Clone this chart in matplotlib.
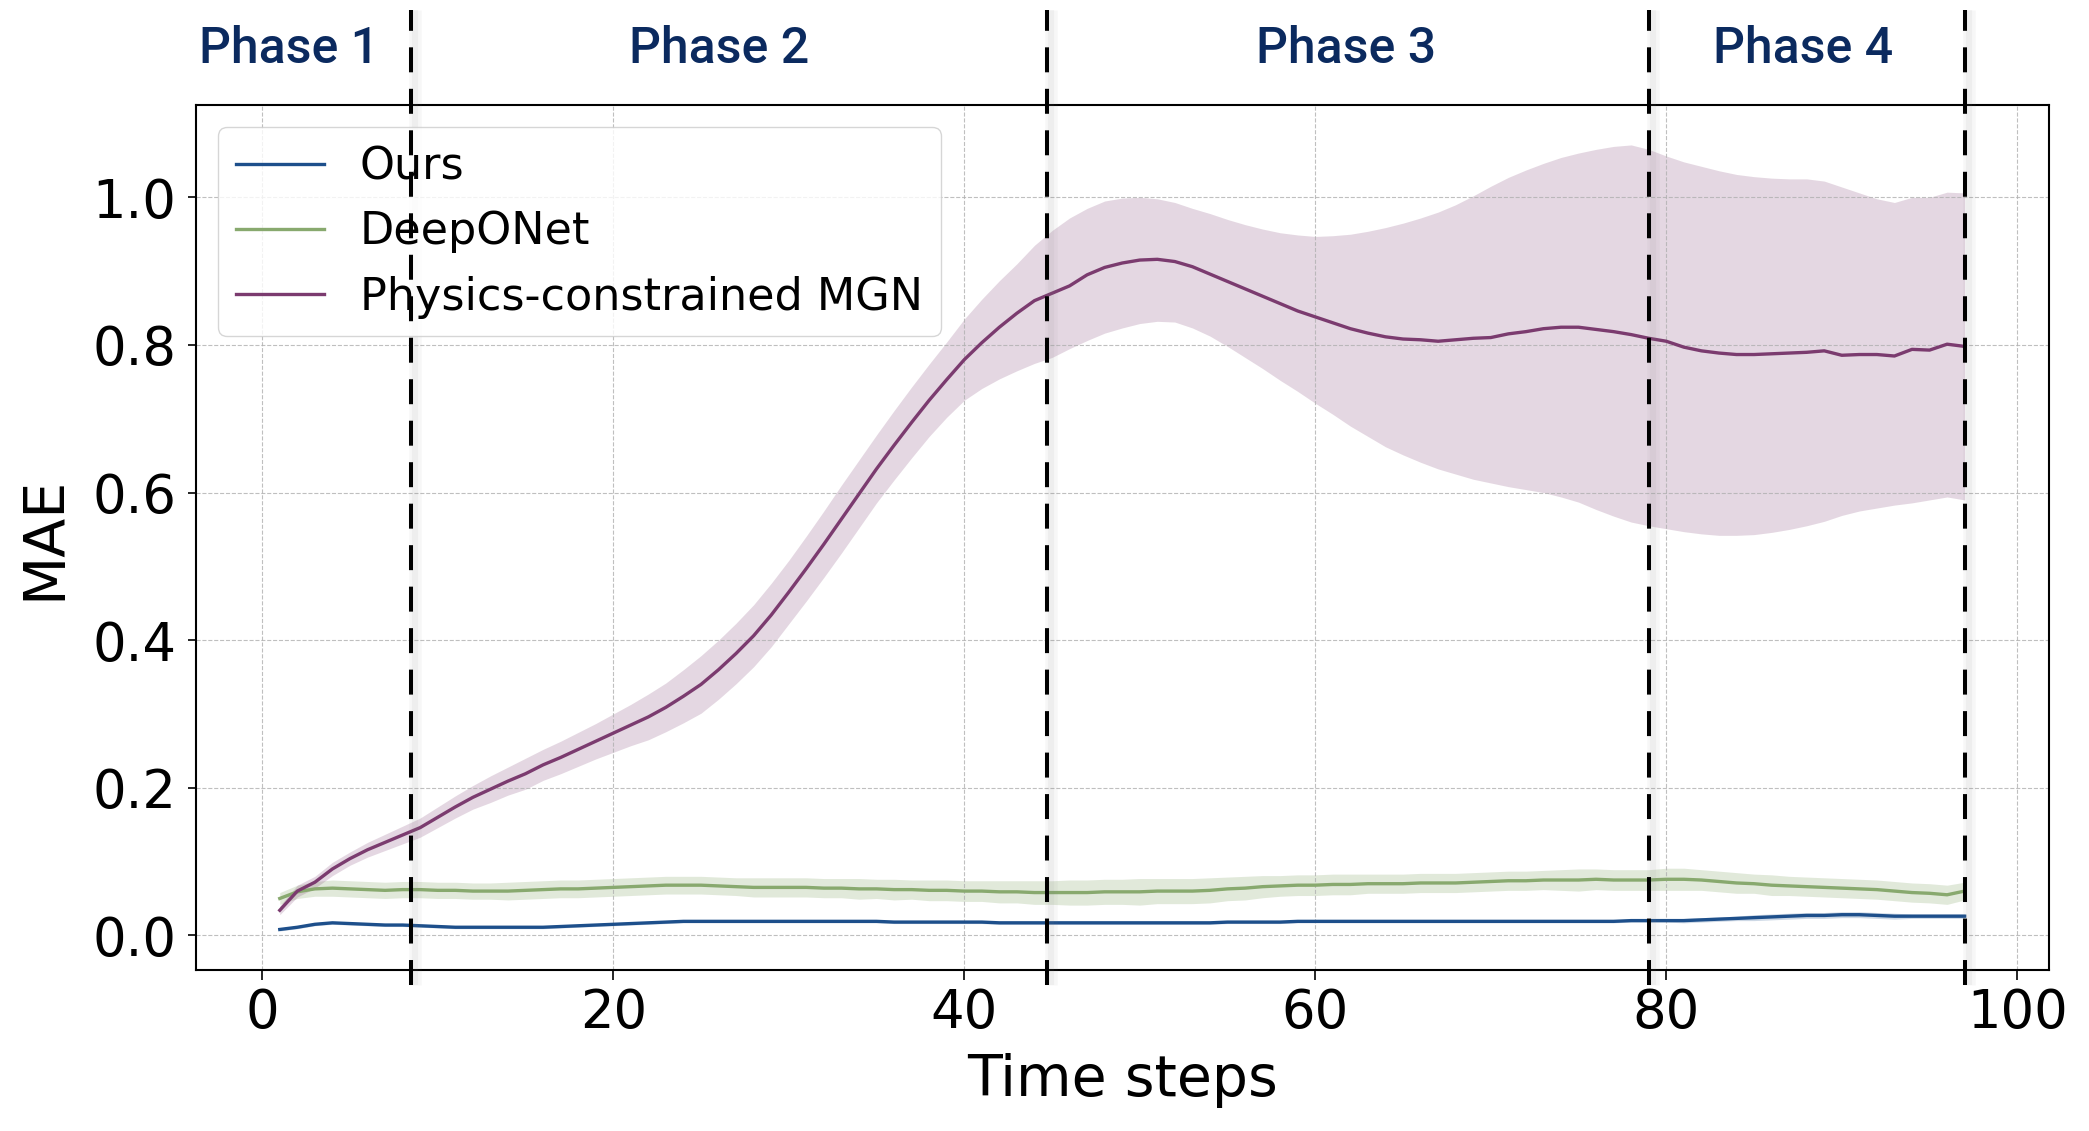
import matplotlib
matplotlib.use("Agg")
import matplotlib.pyplot as plt
import matplotlib.transforms as mtransforms
import numpy as np

# ---------------- data ----------------
steps = list(range(1, 98))

ours_mean = [0.008, 0.011, 0.015, 0.017, 0.016, 0.015, 0.014, 0.014, 0.013, 0.012,
             0.011, 0.011, 0.011, 0.011, 0.011, 0.011, 0.012, 0.013, 0.014, 0.015,
             0.016, 0.017, 0.018, 0.019, 0.019, 0.019, 0.019, 0.019, 0.019, 0.019,
             0.019, 0.019, 0.019, 0.019, 0.019, 0.018, 0.018, 0.018, 0.018, 0.018,
             0.018, 0.017, 0.017, 0.017, 0.017, 0.017, 0.017, 0.017, 0.017, 0.017,
             0.017, 0.017, 0.017, 0.017, 0.018, 0.018, 0.018, 0.018, 0.019, 0.019,
             0.019, 0.019, 0.019, 0.019, 0.019, 0.019, 0.019, 0.019, 0.019, 0.019,
             0.019, 0.019, 0.019, 0.019, 0.019, 0.019, 0.019, 0.020, 0.020, 0.020,
             0.020, 0.021, 0.022, 0.023, 0.024, 0.025, 0.026, 0.027, 0.027, 0.028,
             0.028, 0.027, 0.026, 0.026, 0.026, 0.026, 0.026]
ours_std = [0.002] * 80 + [0.003, 0.003, 0.003, 0.003,
                           0.004, 0.004, 0.004, 0.004, 0.004, 0.004, 0.004, 0.004, 0.004,
                           0.003, 0.003, 0.003, 0.003]

deeponet_mean = [0.050, 0.059, 0.063, 0.064, 0.063, 0.062, 0.061, 0.062, 0.062, 0.061,
                 0.061, 0.060, 0.060, 0.060, 0.061, 0.062, 0.063, 0.063, 0.064, 0.065,
                 0.066, 0.067, 0.068, 0.068, 0.068, 0.067, 0.066, 0.065, 0.065, 0.065,
                 0.065, 0.064, 0.064, 0.063, 0.063, 0.062, 0.062, 0.061, 0.061, 0.060,
                 0.060, 0.059, 0.059, 0.058, 0.058, 0.058, 0.058, 0.059, 0.059, 0.059,
                 0.060, 0.060, 0.060, 0.061, 0.063, 0.064, 0.066, 0.067, 0.068, 0.068,
                 0.069, 0.069, 0.070, 0.070, 0.070, 0.071, 0.071, 0.071, 0.072, 0.073,
                 0.074, 0.074, 0.075, 0.075, 0.075, 0.076, 0.075, 0.075, 0.075, 0.076,
                 0.076, 0.075, 0.073, 0.071, 0.070, 0.068, 0.067, 0.066, 0.065, 0.064,
                 0.063, 0.062, 0.060, 0.058, 0.057, 0.055, 0.060]
deeponet_hi = [0.058, 0.068, 0.073, 0.075, 0.074, 0.073, 0.072, 0.073, 0.073, 0.072,
               0.072, 0.071, 0.071, 0.072, 0.073, 0.074, 0.075, 0.075, 0.076, 0.077,
               0.078, 0.079, 0.080, 0.080, 0.080, 0.079, 0.078, 0.078, 0.078, 0.078,
               0.078, 0.077, 0.077, 0.077, 0.076, 0.076, 0.075, 0.075, 0.075, 0.074,
               0.074, 0.074, 0.074, 0.074, 0.074, 0.075, 0.075, 0.076, 0.076, 0.077,
               0.077, 0.077, 0.077, 0.078, 0.079, 0.080, 0.081, 0.081, 0.082, 0.082,
               0.083, 0.083, 0.083, 0.083, 0.083, 0.084, 0.084, 0.084, 0.085, 0.086,
               0.087, 0.087, 0.088, 0.089, 0.090, 0.090, 0.089, 0.089, 0.089, 0.091,
               0.091, 0.089, 0.087, 0.085, 0.083, 0.082, 0.080, 0.079, 0.078, 0.077,
               0.076, 0.075, 0.073, 0.071, 0.070, 0.068, 0.072]
deeponet_lo = [0.042, 0.050, 0.053, 0.053, 0.052, 0.051, 0.050, 0.051, 0.051, 0.050,
               0.050, 0.049, 0.049, 0.048, 0.049, 0.050, 0.051, 0.051, 0.052, 0.053,
               0.054, 0.055, 0.056, 0.056, 0.056, 0.055, 0.054, 0.052, 0.052, 0.052,
               0.052, 0.051, 0.051, 0.049, 0.050, 0.048, 0.049, 0.047, 0.047, 0.046,
               0.046, 0.044, 0.044, 0.042, 0.042, 0.041, 0.041, 0.042, 0.042, 0.041,
               0.043, 0.043, 0.043, 0.044, 0.047, 0.048, 0.051, 0.053, 0.054, 0.054,
               0.055, 0.055, 0.057, 0.057, 0.057, 0.058, 0.058, 0.058, 0.059, 0.060,
               0.061, 0.061, 0.062, 0.061, 0.060, 0.062, 0.061, 0.061, 0.061, 0.061,
               0.061, 0.061, 0.059, 0.057, 0.057, 0.054, 0.054, 0.053, 0.052, 0.051,
               0.050, 0.049, 0.047, 0.045, 0.044, 0.042, 0.048]

mgn_mean = [0.034, 0.060, 0.072, 0.090, 0.104, 0.116, 0.126, 0.136, 0.146, 0.160,
            0.174, 0.187, 0.198, 0.209, 0.219, 0.231, 0.241, 0.252, 0.263, 0.274,
            0.285, 0.296, 0.309, 0.324, 0.340, 0.360, 0.382, 0.406, 0.434, 0.465,
            0.497, 0.530, 0.564, 0.598, 0.632, 0.664, 0.695, 0.725, 0.753, 0.780,
            0.803, 0.824, 0.843, 0.860, 0.870, 0.880, 0.895, 0.905, 0.911, 0.915,
            0.916, 0.913, 0.906, 0.896, 0.886, 0.876, 0.866, 0.856, 0.846, 0.838,
            0.830, 0.822, 0.816, 0.811, 0.808, 0.807, 0.805, 0.807, 0.809, 0.810,
            0.815, 0.818, 0.822, 0.824, 0.824, 0.821, 0.818, 0.814, 0.809, 0.805,
            0.797, 0.792, 0.789, 0.787, 0.787, 0.788, 0.789, 0.790, 0.792, 0.786,
            0.787, 0.787, 0.785, 0.794, 0.793, 0.801, 0.798]
mgn_hi = [0.040, 0.068, 0.080, 0.099, 0.113, 0.126, 0.137, 0.148, 0.159, 0.174,
          0.189, 0.203, 0.216, 0.228, 0.240, 0.252, 0.263, 0.275, 0.287, 0.300,
          0.313, 0.327, 0.342, 0.360, 0.379, 0.400, 0.423, 0.448, 0.477, 0.508,
          0.541, 0.575, 0.610, 0.644, 0.678, 0.711, 0.743, 0.774, 0.804, 0.835,
          0.862, 0.887, 0.910, 0.935, 0.955, 0.972, 0.985, 0.995, 0.999, 1.000,
          0.998, 0.993, 0.985, 0.978, 0.970, 0.963, 0.957, 0.952, 0.949, 0.947,
          0.948, 0.950, 0.954, 0.959, 0.965, 0.972, 0.980, 0.990, 1.002, 1.015,
          1.027, 1.037, 1.046, 1.054, 1.060, 1.065, 1.069, 1.071, 1.065, 1.056,
          1.048, 1.042, 1.036, 1.031, 1.028, 1.026, 1.025, 1.025, 1.022, 1.014,
          1.006, 0.998, 0.993, 1.000, 1.000, 1.007, 1.006]
mgn_lo = [0.028, 0.052, 0.064, 0.081, 0.095, 0.106, 0.115, 0.124, 0.133, 0.146,
          0.159, 0.171, 0.180, 0.190, 0.198, 0.210, 0.219, 0.229, 0.239, 0.248,
          0.257, 0.265, 0.276, 0.288, 0.301, 0.320, 0.341, 0.364, 0.391, 0.422,
          0.453, 0.485, 0.518, 0.552, 0.586, 0.617, 0.647, 0.676, 0.702, 0.725,
          0.741, 0.754, 0.765, 0.775, 0.783, 0.795, 0.806, 0.816, 0.823, 0.829,
          0.832, 0.831, 0.823, 0.812, 0.798, 0.783, 0.768, 0.752, 0.737, 0.721,
          0.706, 0.690, 0.676, 0.662, 0.651, 0.641, 0.632, 0.625, 0.618, 0.613,
          0.608, 0.604, 0.600, 0.594, 0.587, 0.577, 0.568, 0.560, 0.555, 0.551,
          0.547, 0.544, 0.542, 0.542, 0.543, 0.546, 0.550, 0.555, 0.561, 0.569,
          0.575, 0.579, 0.583, 0.586, 0.590, 0.594, 0.590]

phase_bounds = [8.5, 44.7, 79.0, 97.0]
phase_labels = ["Phase 1", "Phase 2", "Phase 3", "Phase 4"]
xticks = [0, 20, 40, 60, 80, 100]
yticks = [0.0, 0.2, 0.4, 0.6, 0.8, 1.0]

series = [
    ("Ours", ours_mean, None, None, "#1d4f8b", 0.22),
    ("DeepONet", deeponet_mean, deeponet_lo, deeponet_hi, "#88a96e", 0.25),
    ("Physics-constrained MGN", mgn_mean, mgn_lo, mgn_hi, "#7b3b6f", 0.20),
]

# ---------------- figure ----------------
fig = plt.figure(figsize=(20.89, 11.31), dpi=100)
ax = fig.add_axes([0.0936, 0.1423, 0.8872, 0.7648])

x = np.array(steps)
for name, mean, lo, hi, color, a in series:
    mean = np.array(mean)
    if lo is None:
        sd = np.array(ours_std)
        lo_arr, hi_arr = mean - sd, mean + sd
    else:
        lo_arr, hi_arr = np.array(lo), np.array(hi)
    ax.fill_between(x, lo_arr, hi_arr, color=color, alpha=a, linewidth=0)
    ax.plot(x, mean, color=color, lw=2.4, label=name)

ax.set_xlim(-3.8, 101.8)
ax.set_ylim(-0.047, 1.125)
ax.set_xticks(xticks)
ax.set_yticks(yticks)
ax.set_yticklabels([f"{v:.1f}" for v in yticks])
ax.tick_params(axis="x", labelsize=38, length=7, width=1.2, pad=5)
ax.tick_params(axis="y", labelsize=38, length=6, width=1.2, pad=8)
ax.grid(True, linestyle="--", linewidth=0.8, color="#b0b0b0", alpha=0.8)
for sp in ax.spines.values():
    sp.set_color("black")
    sp.set_linewidth(1.5)
ax.set_xlabel("Time steps", fontsize=41, labelpad=10)
ax.set_ylabel("MAE", fontsize=41, labelpad=14)

ax.legend(loc="upper left", fontsize=32, framealpha=0.8, edgecolor="#cccccc")

# phase boundary dashed lines spanning beyond the axes
blend = mtransforms.blended_transform_factory(ax.transData, fig.transFigure)
shadow = blend + mtransforms.ScaledTranslation(4 / 100, 0, fig.dpi_scale_trans)
y0, y1 = 1 - 985 / 1131, 1 - 10 / 1131
for b in phase_bounds:
    ax.plot([b, b], [y0, y1], transform=shadow, color="gray", lw=9, alpha=0.06,
            solid_capstyle="butt", clip_on=False, zorder=5)
    ax.plot([b, b], [y0, y1], transform=shadow, color="gray", lw=4.5, alpha=0.07,
            solid_capstyle="butt", clip_on=False, zorder=5)
    ax.plot([b, b], [y0, y1], transform=blend, color="black", lw=2.9,
            linestyle=(0, (6.2, 4.1)), dash_capstyle="butt", clip_on=False, zorder=6)

# phase titles
phase_x = [0.1383, 0.3442, 0.6443, 0.8631]
for px, lab in zip(phase_x, phase_labels):
    fig.text(px, 1 - 63 / 1131, lab, ha="center", va="baseline", fontsize=36,
             family=["Roboto", "DejaVu Sans"], fontweight="medium", color="#0b2a5f")

fig.savefig("out.png", dpi=100)
